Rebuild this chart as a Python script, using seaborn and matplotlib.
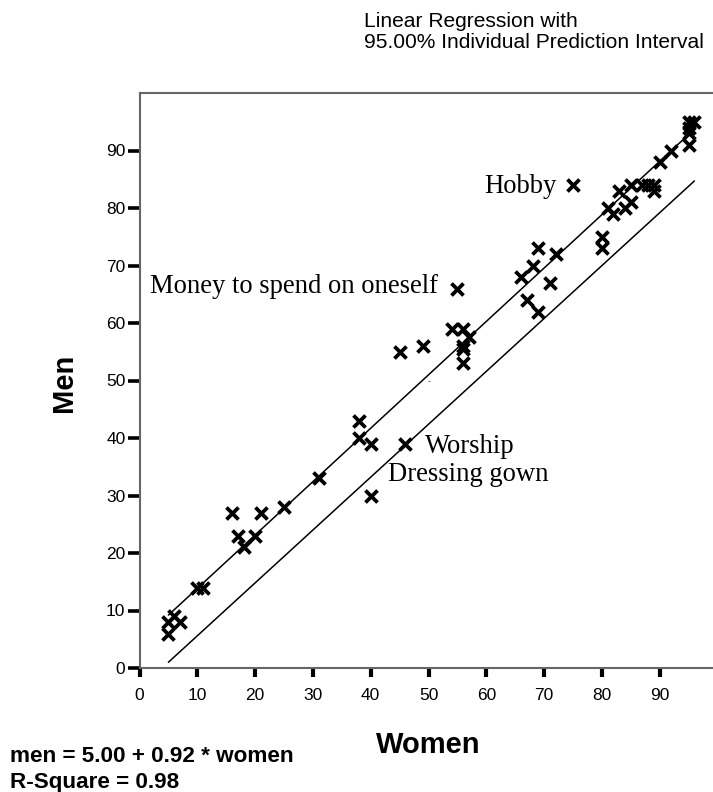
import matplotlib
matplotlib.use("Agg")
import matplotlib.pyplot as plt
import seaborn as sns
import pandas as pd

# ---- data ----
women = [5, 5, 6, 7, 10, 11, 16, 17, 18, 20, 21, 25, 31,
         38, 38, 40, 40, 46, 45, 49, 55, 54, 56, 57, 56, 56, 56,
         66, 68, 69, 72, 71, 67, 69, 75,
         80, 80, 81, 82, 83, 84, 85, 85, 87, 88, 89, 89,
         90, 92, 95, 96, 95, 95, 95]
men = [6, 8, 9, 8, 14, 14, 27, 23, 21, 23, 27, 28, 33,
       43, 40, 39, 30, 39, 55, 56, 66, 59, 59, 57.5, 56, 55.5, 53,
       68, 70, 73, 72, 67, 64, 62, 84,
       75, 73, 80, 79, 83, 80, 81, 84, 84, 84, 84, 83,
       88, 90, 95, 95, 94, 93, 91]

pi_women = [5, 96]
pi_upper = [9.2, 93.7]
pi_lower = [1.0, 84.7]

x_ticks = [0, 10, 20, 30, 40, 50, 60, 70, 80, 90]
y_ticks = [0, 10, 20, 30, 40, 50, 60, 70, 80, 90]

label_names = ["Money to spend on oneself", "Hobby", "Worship", "Dressing gown"]
label_women = [55, 75, 46, 40]
label_men = [66, 84, 39, 30]

title_lines = ["Linear Regression with", "95.00% Individual Prediction Interval"]
equation_lines = ["men = 5.00 + 0.92 * women", "R-Square = 0.98"]

# ---- style ----
sns.set_theme(style="white")
plt.rcParams["font.family"] = ["Liberation Sans", "DejaVu Sans"]
plt.rcParams["text.color"] = "black"
plt.rcParams["axes.labelcolor"] = "black"
plt.rcParams["xtick.color"] = "black"
plt.rcParams["ytick.color"] = "black"

W, H = 713, 792
fig = plt.figure(figsize=(W / 100, H / 100), dpi=100)
ax_left, ax_right, ax_top, ax_bottom = 139.5, 715, 93, 668
ax = fig.add_axes([ax_left / W, 1 - ax_bottom / H, (ax_right - ax_left) / W, (ax_bottom - ax_top) / H])

df = pd.DataFrame({"women": women, "men": men})
pi = pd.DataFrame({
    "women": pi_women + pi_women,
    "men": pi_upper + pi_lower,
    "bound": ["upper"] * len(pi_women) + ["lower"] * len(pi_women),
})

sns.lineplot(data=pi, x="women", y="men", units="bound", estimator=None,
             color="black", linewidth=1.1, ax=ax, legend=False)
sns.scatterplot(data=df, x="women", y="men", marker="x", s=75, linewidth=2.7,
                color="black", ax=ax, zorder=3, legend=False)

ax.set_xlim(0, (ax_right - ax_left) / 5.78)
ax.set_ylim(0, 100)
ax.set_xticks(x_ticks)
ax.set_yticks(y_ticks)
ax.set_xlabel("")
ax.set_ylabel("")
ax.tick_params(axis="y", direction="out", length=8.6, width=2.6, pad=1.5,
               labelsize=12.5, color="black", labelcolor="black", left=True)
ax.tick_params(axis="x", direction="out", length=6.5, width=3, pad=8,
               labelsize=12.5, color="black", labelcolor="black", bottom=True)
for sp in ax.spines.values():
    sp.set_color("#666666")
    sp.set_linewidth(1.5)

# point labels
offsets = [(-14, -3.4, "right"), (-12, -6, "right"), (14.4, -7.0, "left"), (12.7, 10.6, "left")]
for name, xw, ym, (dx, dy, ha) in zip(label_names, label_women, label_men, offsets):
    ax.annotate(name, (xw, ym), xytext=(dx, dy), textcoords="offset points",
                ha=ha, va="baseline", fontsize=19.2, family="Liberation Serif", color="black")
ax.annotate("-", (50, 49.8), ha="center", va="center", fontsize=6, color="black")

# axis titles
fig.text(428.5 / W, 1 - 745 / H, "Women", ha="center", va="center", fontsize=21, fontweight="bold")
fig.text(64 / W, 1 - 382.5 / H, "Men", ha="center", va="center", rotation=90, fontsize=21, fontweight="bold")

# chart title
fig.text(364 / W, 1 - 26.7 / H, title_lines[0], ha="left", va="baseline", fontsize=15.1)
fig.text(364 / W, 1 - 48 / H, title_lines[1], ha="left", va="baseline", fontsize=15.1)

# equation
fig.text(10 / W, 1 - 761.7 / H, equation_lines[0], ha="left", va="baseline", fontsize=16.2, fontweight="bold")
fig.text(10 / W, 1 - 787.7 / H, equation_lines[1], ha="left", va="baseline", fontsize=16.2, fontweight="bold")

fig.savefig("out.png", dpi=100)
